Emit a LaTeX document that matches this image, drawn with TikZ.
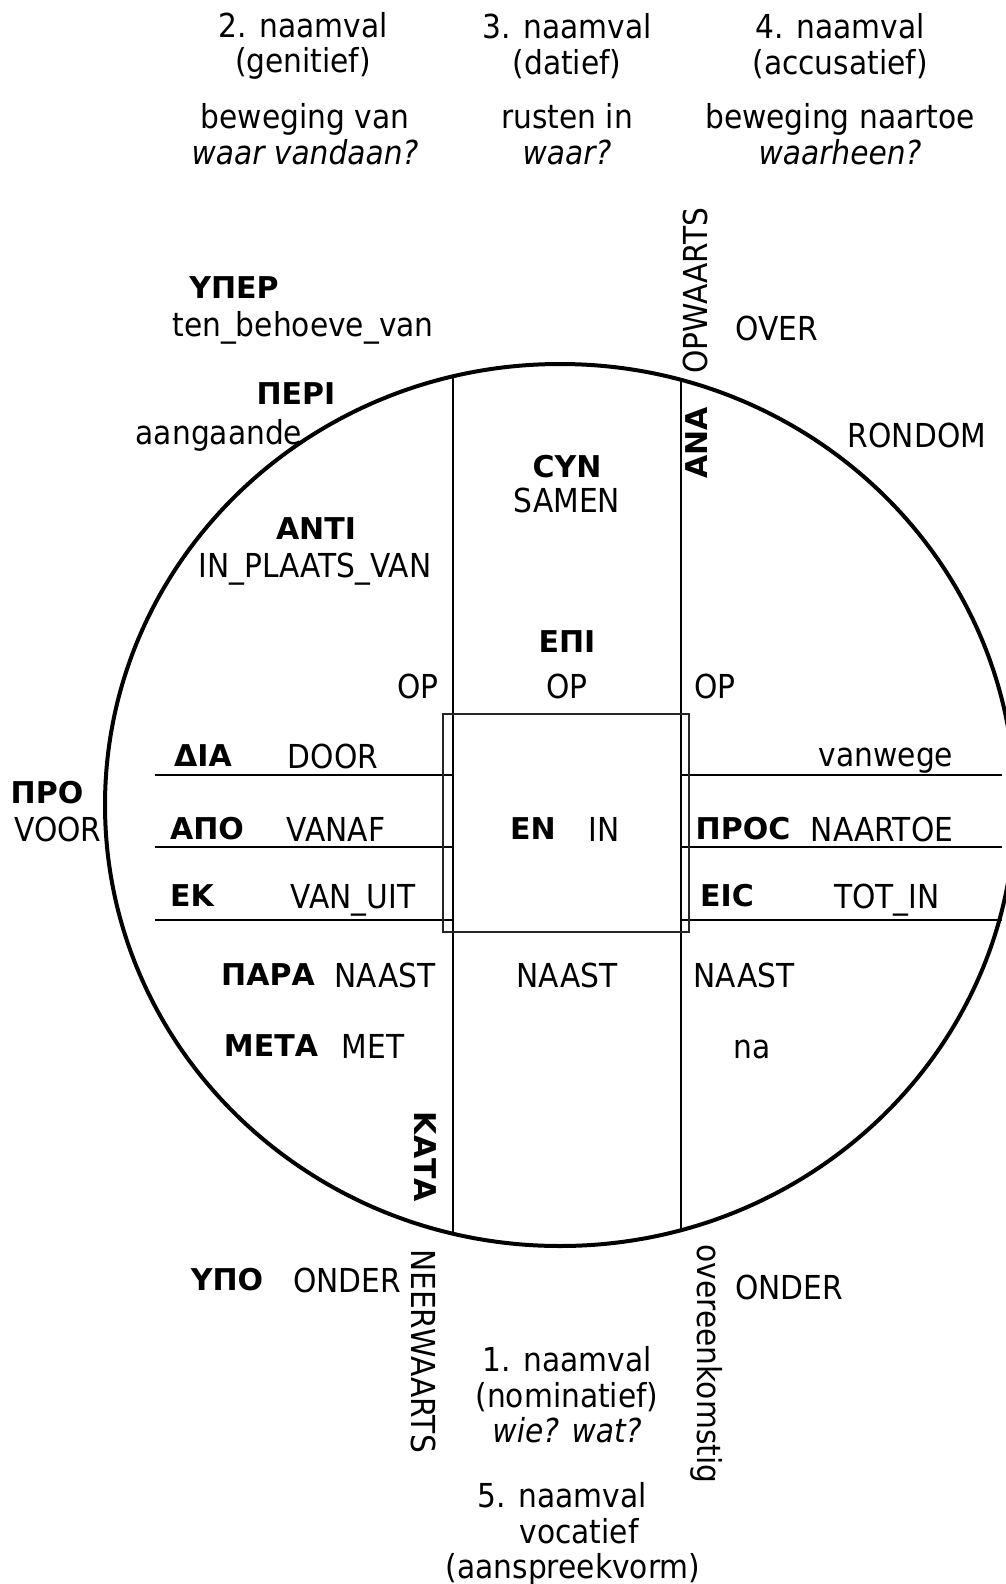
\documentclass[tikz,border=0pt]{standalone}
\usepackage{fontspec}
\setmainfont{DejaVu Sans}[FakeStretch=0.9]
\newfontfamily\greekface{DejaVu Sans}
\usetikzlibrary{positioning}
\newcommand\txtsize{\fontsize{33}{35.5}\selectfont}
\newcommand\grksize{\greekface\bfseries\fontsize{30}{32}\selectfont}

\begin{document}
\begin{tikzpicture}[x=1pt, y=-1pt, node distance=120pt, word/.style={font=\txtsize, inner sep=0pt, align=center}, greek/.style={font=\grksize, inner sep=0pt}, ring/.style={draw, line width=4pt}, divider/.style={draw, line width=1.8pt}, core/.style={draw=black!85, line width=2.6pt}]

  \useasboundingbox (0,0) rectangle (1006,1584);

  % circle, columns and rows
  \draw[ring] (560,805) ellipse [x radius=455pt, y radius=441pt];
  \coordinate (lt) at (453,377);
  \coordinate (lb) at (453,1234);
  \coordinate (rt) at (681,381);
  \coordinate (rb) at (681,1230);
  \draw[divider] (lt) -- (lb);
  \draw[divider] (rt) -- (rb);
  \foreach \y [count=\i] in {775,847,920} {
    \coordinate (west\i) at (155,\y);
    \coordinate (east\i) at (1002,\y);
    \draw[divider] (west\i) -- (lt |- west\i);
    \draw[divider] (rt |- east\i) -- (east\i);
  }
  \node[core, minimum width=246pt, minimum height=218pt] (box) at (566,823) {};

  % cases
  \node[word] (gen) at (303,46) {2. naamval\\(genitief)};
  \node[word] (dat) at (567,46) {3. naamval\\(datief)};
  \node[word] (acc) at (840,46) {4. naamval\\(accusatief)};
  \node[word] (genq) at (305,134) {beweging van\\\textit{waar vandaan?}};
  \node[word] (datq) at (567,134) {rusten in\\\textit{waar?}};
  \node[word] (accq) at (840,134) {beweging naartoe\\\textit{waarheen?}};
  \node[word] (nom) at (567,1395) {1. naamval\\(nominatief)\\\textit{wie? wat?}};
  \node[word] (voc) at (573,1534) {5. naamval\hspace*{22pt}\\\hspace*{12pt}vocatief\\(aanspreekvorm)};

  % upper half
  \node[greek] (hyper) at (234,288) {ΥΠΕΡ};
  \node[word] (hyperw) at (303,328) {ten\_behoeve\_van};
  \node[greek] (peri) at (296,394) {ΠΕΡΙ};
  \node[word] (periw) at (219,435) {aangaande};
  \node[greek] (anti) at (316,529) {ΑΝΤΙ};
  \node[word] (antiw) at (315,569) {IN\_PLAATS\_VAN};
  \node[greek] (syn) at (567,467) {ϹΥΝ};
  \node[word] (synw) at (567,500) {SAMEN};
  \node[greek] (epi) at (567,642) {ΕΠΙ};
  \node[word] (epiw) at (567,686) {OP};
  \node[word] (opl) at (418,686) {OP};
  \node[word] (opr) at (715,686) {OP};
  \node[word, rotate=90] (up) at (695,291) {OPWAARTS};
  \node[word] (over) at (777,328) {OVER};
  \node[greek, rotate=90] (ana) at (697,443) {ΑΝΑ};
  \node[word] (rondom) at (917,435) {RONDOM};

  % middle rows
  \node[greek] (pro) at (47,793) {ΠΡΟ};
  \node[word] (prow) at (58,829) {VOOR};
  \node[greek] (dia) at (203,756) {ΔΙΑ};
  \node[word, right of=dia, node distance=130pt] (diaw) {DOOR};
  \node[greek] (apo) at (207,829) {ΑΠΟ};
  \node[word, right of=apo, node distance=129pt] (apow) {VANAF};
  \node[greek] (ek) at (192,896) {ΕΚ};
  \node[word, right of=ek, node distance=161pt, yshift=-4pt] (ekw) {VAN\_UIT};
  \node[greek] (en) at (533,829) {ΕΝ};
  \node[word, right of=en, node distance=71pt] (enw) {IN};
  \node[word] (vanwege) at (886,761) {vanwege};
  \node[greek] (pros) at (743,829) {ΠΡΟϹ};
  \node[word, right of=pros, node distance=139pt] (prosw) {NAARTOE};
  \node[greek] (eis) at (727,896) {ΕΙϹ};
  \node[word, right of=eis, node distance=160pt, yshift=-4pt] (eisw) {TOT\_IN};

  % lower half
  \node[greek] (para) at (268,975) {ΠΑΡΑ};
  \node[word, right of=para, node distance=117pt] (paraw) {NAAST};
  \node[word] (naastm) at (567,975) {NAAST};
  \node[word] (naastr) at (744,975) {NAAST};
  \node[greek] (meta) at (271,1046) {ΜΕΤΑ};
  \node[word, right of=meta, node distance=102pt] (metaw) {MET};
  \node[word] (na) at (752,1049) {na};
  \node[greek, rotate=-90] (kata) at (425,1157) {ΚΑΤΑ};
  \node[word, rotate=-90] (down) at (424,1351) {NEERWAARTS};
  \node[word, rotate=-90] (agree) at (707,1364) {overeenkomstig};
  \node[greek] (hypo) at (227,1280) {ΥΠΟ};
  \node[word, right of=hypo] (hypow) {ONDER};
  \node[word] (onderr) at (789,1287) {ONDER};

\end{tikzpicture}
\end{document}
